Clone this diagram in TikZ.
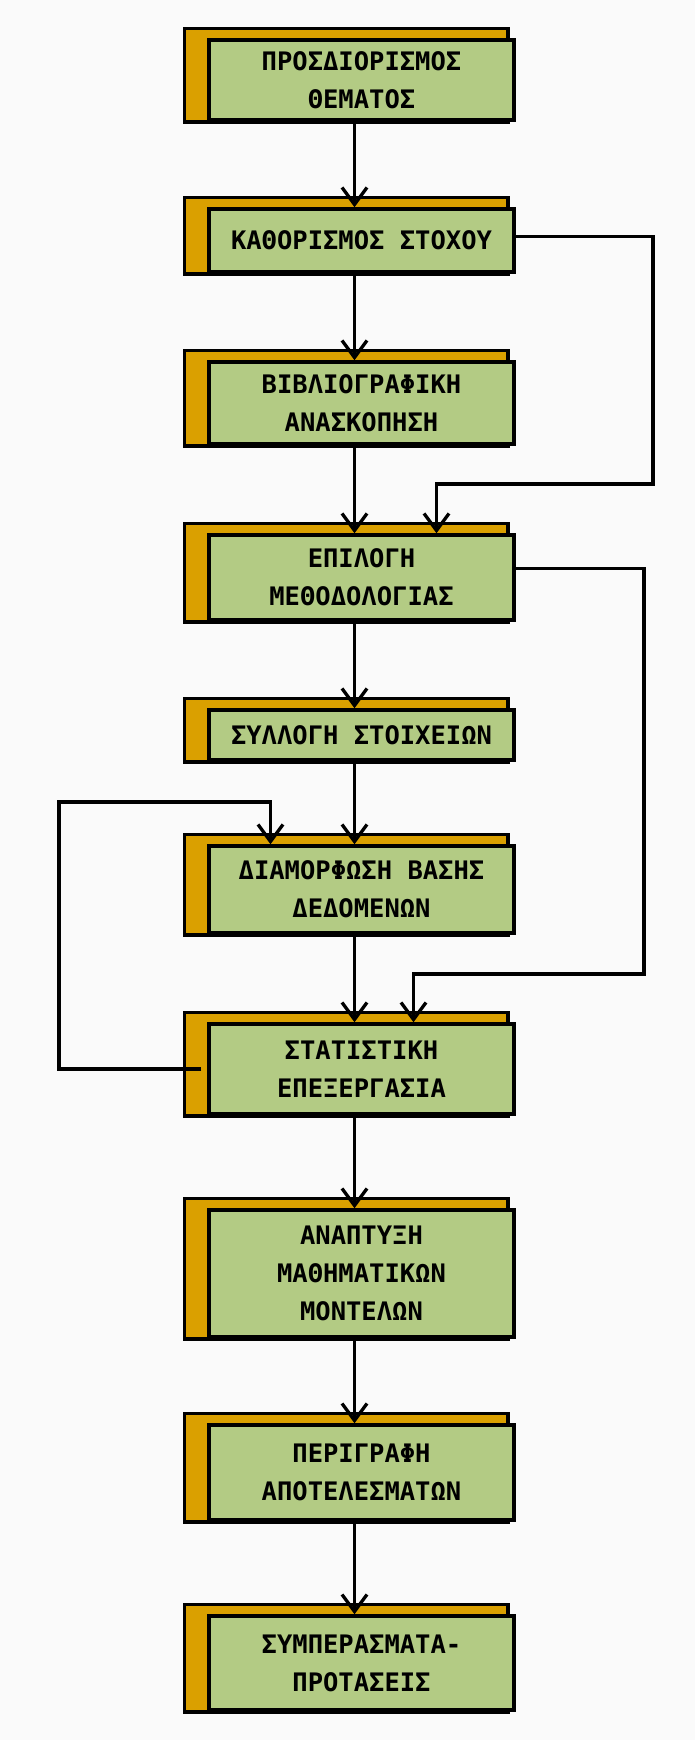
\documentclass[tikz,border=0pt]{standalone}
\usepackage{fontspec}
\newfontfamily\boxfont{DejaVu Sans Mono}
\usetikzlibrary{arrows.meta,backgrounds,calc}
\definecolor{boxgreen}{RGB}{179,203,132}
\definecolor{boxorange}{RGB}{218,160,0}
\definecolor{pagebg}{RGB}{250,250,250}
\begin{document}
\begin{tikzpicture}[x=1pt,y=-1pt,
  frontbox/.style={draw=black, line width=3.5pt, fill=boxgreen, minimum width=305pt, inner sep=0pt, align=center,
    font=\boxfont\bfseries\fontsize{25.5pt}{38pt}\selectfont},
  backbox/.style={draw=black, line width=3.5pt, fill=boxorange},
  arr/.style={draw=black, line width=3.3pt, -{Straight Barb[length=17pt,width=25pt]}}]
\useasboundingbox (0,0) rectangle (695,1740);

\node[frontbox, minimum height=80pt]  (s1)  at (361.5,80)     {ΠΡΟΣΔΙΟΡΙΣΜΟΣ\\ΘΕΜΑΤΟΣ};
\node[frontbox, minimum height=63pt]  (s2)  at (361.5,240.5)  {ΚΑΘΟΡΙΣΜΟΣ ΣΤΟΧΟΥ};
\node[frontbox, minimum height=82pt]  (s3)  at (361.5,403)    {ΒΙΒΛΙΟΓΡΑΦΙΚΗ\\ΑΝΑΣΚΟΠΗΣΗ};
\node[frontbox, minimum height=85pt]  (s4)  at (361.5,577.5)  {ΕΠΙΛΟΓΗ\\ΜΕΘΟΔΟΛΟΓΙΑΣ};
\node[frontbox, minimum height=50pt]  (s5)  at (361.5,735)    {ΣΥΛΛΟΓΗ ΣΤΟΙΧΕΙΩΝ};
\node[frontbox, minimum height=87pt]  (s6)  at (361.5,889.5)  {ΔΙΑΜΟΡΦΩΣΗ ΒΑΣΗΣ\\ΔΕΔΟΜΕΝΩΝ};
\node[frontbox, minimum height=90pt]  (s7)  at (361.5,1069)   {ΣΤΑΤΙΣΤΙΚΗ\\ΕΠΕΞΕΡΓΑΣΙΑ};
\node[frontbox, minimum height=127pt] (s8)  at (361.5,1273.5) {ΑΝΑΠΤΥΞΗ\\ΜΑΘΗΜΑΤΙΚΩΝ\\ΜΟΝΤΕΛΩΝ};
\node[frontbox, minimum height=95pt]  (s9)  at (361.5,1472.5) {ΠΕΡΙΓΡΑΦΗ\\ΑΠΟΤΕΛΕΣΜΑΤΩΝ};
\node[frontbox, minimum height=94pt]  (s10) at (361.5,1663)   {ΣΥΜΠΕΡΑΣΜΑΤΑ-\\ΠΡΟΤΑΣΕΙΣ};

\begin{scope}[on background layer]
  \fill[pagebg] (0,0) rectangle (695,1740);
  \foreach \n in {s1,s2,s3,s4,s5,s6,s7,s8,s9,s10}
    \draw[backbox] ($(\n.north west)+(-23,-10)$) rectangle ($(\n.south east)+(-8,0)$);
\end{scope}

\foreach \a/\b in {s1/s2,s2/s3,s3/s4,s4/s5,s5/s6,s6/s7,s7/s8,s8/s9,s9/s10}
  \draw[arr] ([xshift=-7pt]\a.south) -- ([xshift=-7pt]\b.north);

\coordinate (c1) at (653,484);
\coordinate (c2) at (644,974);
\coordinate (c3) at (59,802);

\draw[arr] ([yshift=4pt]s2.east) -| (c1) -| ([xshift=75pt]s4.north);
\draw[arr] ([yshift=9pt]s4.east) -| (c2) -| ([xshift=52pt]s7.north);
\draw[arr] ([xshift=-6pt]s7.west) -| (c3) -| ([xshift=-91pt]s6.north);
\end{tikzpicture}
\end{document}
